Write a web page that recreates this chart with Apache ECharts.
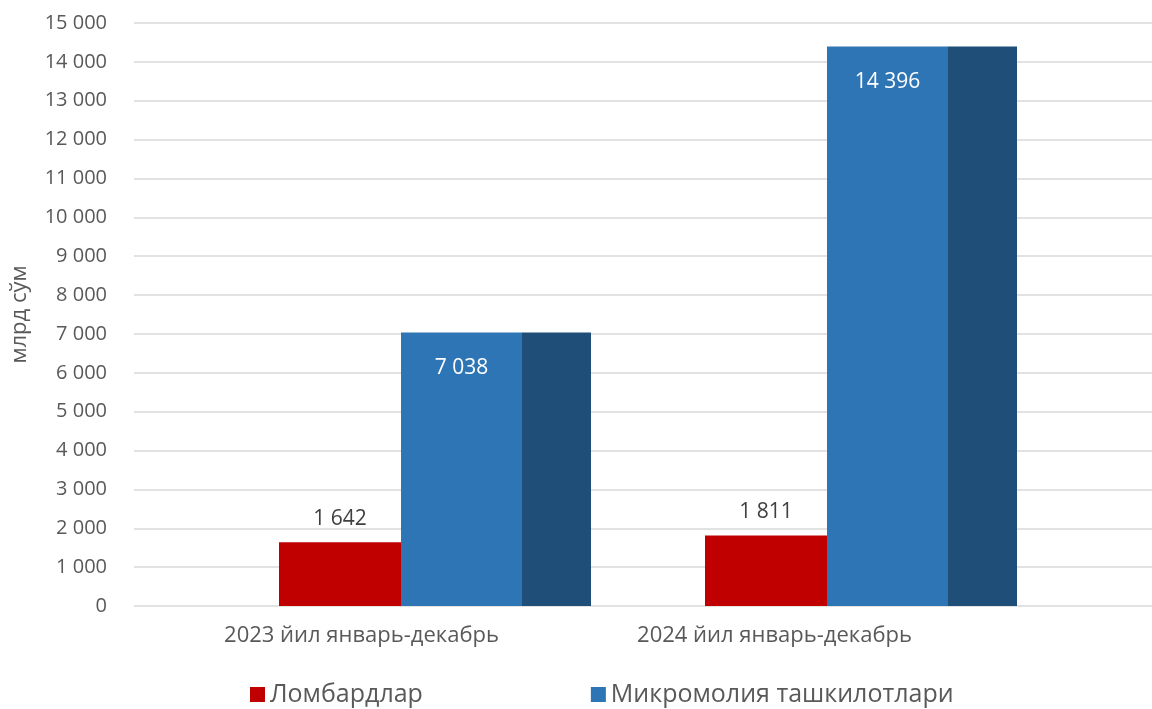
<!DOCTYPE html>
<html>
<head>
<meta charset="utf-8">
<script src="https://cdn.jsdelivr.net/npm/echarts@6/dist/echarts.min.js"></script>
<style>
	html, body { margin: 0; padding: 0; background: #fff; }
	#myChart { width: 1152px; height: 709px; }
</style>
</head>
<body>
<div id="myChart"></div>
<script>
// данные диаграммы
let categories = ['2023 йил январь-декабрь', '2024 йил январь-декабрь'];
let lombardValues = [1642, 1811];
let microValues = [7038, 14396];
let seriesNames = ['Ломбардлар', 'Микромолия ташкилотлари'];
let yMin = 0, yMax = 15000, yStep = 1000;

// 1 642 -> пробел между тысячами
function fmt(v) {
	return String(v).replace(/\B(?=(\d{3})+(?!\d))/g, ' ');
}

let font = '"Open Sans", "DejaVu Sans", sans-serif';
let myChart = echarts.init(document.getElementById('myChart'));

let hiddenY = function(idx) {
	return { type: 'value', gridIndex: idx, min: yMin, max: yMax, interval: yStep, show: false };
};

let option = {
	animation: false,
	backgroundColor: '#ffffff',
	textStyle: { fontFamily: font },
	grid: [
		// сетка и ось Y
		{ left: 134, right: 0, top: 23, bottom: 103 },
		// подписи категорий
		{ left: 155, right: 171, top: 23, bottom: 103 },
		// столбцы
		{ left: 222, right: 78, top: 23, bottom: 103 }
	],
	legend: {
		data: seriesNames,
		left: 245,
		bottom: -3,
		itemWidth: 15,
		itemHeight: 15,
		itemGap: 168,
		icon: 'rect',
		textStyle: { fontSize: 25, color: '#595959', fontFamily: font }
	},
	xAxis: [
		{ type: 'category', gridIndex: 0, data: categories, show: false },
		{
			type: 'category', gridIndex: 1, data: categories,
			axisLine: { show: false }, axisTick: { show: false },
			axisLabel: { color: '#595959', fontSize: 22, margin: 19, fontFamily: font }
		},
		{ type: 'category', gridIndex: 2, data: categories, show: false }
	],
	yAxis: [
		{
			type: 'value', gridIndex: 0, min: yMin, max: yMax, interval: yStep,
			name: 'млрд сўм', nameLocation: 'middle', nameGap: 103,
			nameTextStyle: { color: '#595959', fontSize: 22, fontFamily: font },
			axisLine: { show: false }, axisTick: { show: false },
			axisLabel: { color: '#595959', fontSize: 20, margin: 27, fontFamily: font, formatter: fmt },
			splitLine: { lineStyle: { color: '#d9d9d9', width: 1.5 } }
		},
		hiddenY(1),
		hiddenY(2)
	],
	series: [
		{
			name: seriesNames[0], type: 'bar', xAxisIndex: 2, yAxisIndex: 2,
			data: lombardValues, barWidth: 122, barGap: '0%',
			itemStyle: { color: '#c00000' },
			label: { show: true, position: 'top', distance: 13, color: '#404040', fontSize: 21, fontFamily: font, formatter: function(p) { return fmt(p.value); } }
		},
		{
			name: seriesNames[1], type: 'bar', xAxisIndex: 2, yAxisIndex: 2,
			data: microValues, barWidth: 121, barGap: '0%',
			itemStyle: { color: '#2e75b6' },
			label: { show: true, position: 'insideTop', distance: 25, color: '#ffffff', fontSize: 21, fontFamily: font, formatter: function(p) { return fmt(p.value); } }
		},
		{
			// тёмная боковая грань
			name: 'side', type: 'bar', xAxisIndex: 2, yAxisIndex: 2,
			data: microValues, barWidth: 69, barGap: '0%',
			itemStyle: { color: '#1f4e79' },
			label: { show: false }
		}
	]
};
myChart.setOption(option);
</script>
</body>
</html>
